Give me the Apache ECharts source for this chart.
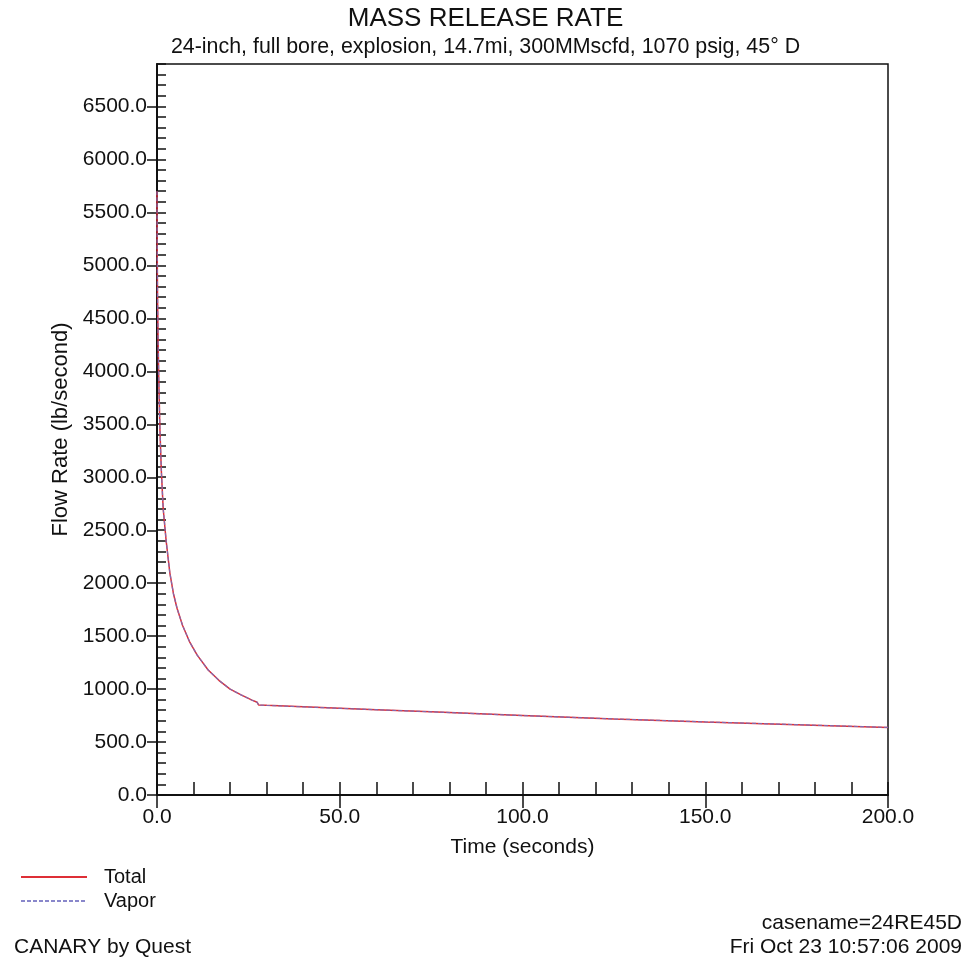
<!DOCTYPE html>
<html>
<head>
<meta charset="utf-8">
<script src="https://cdn.jsdelivr.net/npm/echarts@6/dist/echarts.min.js"></script>
<style>html,body{margin:0;padding:0;background:#fff}#c{width:971px;height:962px}</style>
</head>
<body>
<div id="c"></div>
<script>
// Time (seconds)
var timeSec = [0, 0.05, 0.15, 0.3, 0.5, 0.8, 1.2, 1.7, 2.5, 3.5, 4.5, 5.5, 7, 9, 11, 14, 17, 20, 23, 26, 27.4, 27.8, 30, 40, 50, 60, 75, 100, 125, 150, 175, 200];
// Flow rate (lb/second)
var totalRate = [5700, 5200, 4700, 4300, 3900, 3450, 3050, 2700, 2400, 2100, 1900, 1760, 1600, 1440, 1320, 1180, 1080, 1000, 945, 895, 875, 850, 846, 832, 818, 805, 785, 750, 718, 690, 664, 638];
var vaporRate = [5700, 5200, 4700, 4300, 3900, 3450, 3050, 2700, 2400, 2100, 1900, 1760, 1600, 1440, 1320, 1180, 1080, 1000, 945, 895, 875, 850, 846, 832, 818, 805, 785, 750, 718, 690, 664, 638];
var yTickLabels = [0, 500, 1000, 1500, 2000, 2500, 3000, 3500, 4000, 4500, 5000, 5500, 6000, 6500];
var xTickLabels = [0, 50, 100, 150, 200];

function zip(xs, ys) { return xs.map(function (x, i) { return [x, ys[i]]; }); }

var FONT = "'Liberation Sans', Arial, sans-serif";
var FS = 21;
var chart = echarts.init(document.getElementById('c'), null, { renderer: 'canvas' });

chart.setOption({
  backgroundColor: '#fff',
  animation: false,
  textStyle: { fontFamily: FONT, color: '#111' },
  title: [
    { text: 'MASS RELEASE RATE', left: 'center', top: 1, textStyle: { fontFamily: FONT, fontSize: 26, fontWeight: 'normal', color: '#111' } },
    { text: '24-inch, full bore, explosion, 14.7mi, 300MMscfd, 1070 psig, 45° D', left: 'center', top: 32, textStyle: { fontFamily: FONT, fontSize: 21.4, fontWeight: 'normal', color: '#111' } },
    { text: 'CANARY by Quest', left: 9, top: 932, textStyle: { fontFamily: FONT, fontSize: FS, fontWeight: 'normal', color: '#111' } },
    { text: 'casename=24RE45D', right: 4, top: 908, textStyle: { fontFamily: FONT, fontSize: FS, fontWeight: 'normal', color: '#111' } },
    { text: 'Fri Oct 23 10:57:06 2009', right: 4, top: 932, textStyle: { fontFamily: FONT, fontSize: FS, fontWeight: 'normal', color: '#111' } }
  ],
  legend: {
    orient: 'vertical', left: 15, top: 862,
    itemWidth: 66, itemHeight: 14, itemGap: 4,
    itemStyle: { opacity: 0 },
    textStyle: { fontFamily: FONT, fontSize: 20, color: '#111', padding: [0, 0, 0, 12] },
    data: ['Total', 'Vapor']
  },
  grid: [
    { left: 157, right: 83, top: 64, bottom: 167, show: true, borderColor: '#111', borderWidth: 1.5, containLabel: false },
    { left: 157, right: 83, top: 106.7, bottom: 167, show: false }
  ],
  xAxis: [
    {
      gridIndex: 0, type: 'value', min: 0, max: 200, interval: 10, position: 'bottom',
      name: 'Time (seconds)', nameLocation: 'middle', nameGap: 42,
      nameTextStyle: { fontFamily: FONT, fontSize: FS, color: '#111' },
      axisLine: { show: true, onZero: false, lineStyle: { color: '#111', width: 2 } },
      axisTick: { show: true, inside: true, length: 13, lineStyle: { color: '#111', width: 1.5 } },
      axisLabel: {
        margin: 12, fontFamily: FONT, fontSize: FS, color: '#111',
        formatter: function (v) { return xTickLabels.indexOf(v) >= 0 ? v.toFixed(1) : ''; }
      },
      splitLine: { show: false }
    },
    {
      gridIndex: 0, type: 'value', min: 0, max: 200, interval: 50, position: 'bottom',
      axisLine: { show: false },
      axisTick: { show: true, inside: false, length: 13, lineStyle: { color: '#111', width: 1.5 } },
      axisLabel: { show: false },
      splitLine: { show: false }
    },
    {
      gridIndex: 1, type: 'value', min: 0, max: 200, show: false
    }
  ],
  yAxis: [
    {
      gridIndex: 0, type: 'value', min: 0, max: 6900, interval: 100, position: 'left',
      name: 'Flow Rate (lb/second)', nameLocation: 'middle', nameGap: 83,
      nameTextStyle: { fontFamily: FONT, fontSize: 22, color: '#111' },
      axisLine: { show: true, onZero: false, lineStyle: { color: '#111', width: 2 } },
      axisTick: { show: true, inside: true, length: 9, lineStyle: { color: '#111', width: 1.5 } },
      axisLabel: {
        margin: 10, fontFamily: FONT, fontSize: FS, color: '#111',
        formatter: function (v) { return yTickLabels.indexOf(v) >= 0 ? v.toFixed(1) : ''; }
      },
      splitLine: { show: false }
    },
    {
      gridIndex: 1, type: 'value', min: 0, max: 6500, interval: 500, position: 'left',
      axisLine: { show: false },
      axisTick: { show: true, inside: false, length: 10, lineStyle: { color: '#111', width: 1.5 } },
      axisLabel: { show: false },
      splitLine: { show: false }
    }
  ],
  series: [
    {
      name: 'Total', type: 'line', xAxisIndex: 0, yAxisIndex: 0,
      data: zip(timeSec, totalRate), symbol: 'none', smooth: false,
      lineStyle: { color: '#de2f36', width: 1.5 }, itemStyle: { color: '#de2f36' }
    },
    {
      name: 'Vapor', type: 'line', xAxisIndex: 0, yAxisIndex: 0,
      data: zip(timeSec, vaporRate), symbol: 'none', smooth: false,
      lineStyle: { color: '#7472c2', width: 1.2, type: [4, 2], opacity: 0.85 }, itemStyle: { color: '#7472c2' }
    }
  ]
});
</script>
</body>
</html>
